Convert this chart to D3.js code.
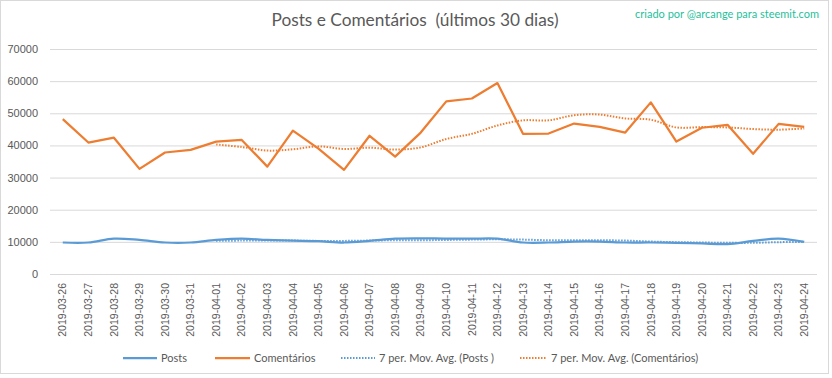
<!DOCTYPE html>
<html>
<head>
<meta charset="utf-8">
<script src="https://cdn.jsdelivr.net/npm/d3@7"></script>
<style>
  body { margin: 0; background: #fff; }
  svg { display: block; font-family: Lato, "Open Sans", sans-serif; }
</style>
</head>
<body>
<svg id="chart" width="832" height="378"></svg>
<script>
// Data
const dates = [
  "2019-03-26", "2019-03-27", "2019-03-28", "2019-03-29", "2019-03-30", "2019-03-31",
  "2019-04-01", "2019-04-02", "2019-04-03", "2019-04-04", "2019-04-05", "2019-04-06",
  "2019-04-07", "2019-04-08", "2019-04-09", "2019-04-10", "2019-04-11", "2019-04-12",
  "2019-04-13", "2019-04-14", "2019-04-15", "2019-04-16", "2019-04-17", "2019-04-18",
  "2019-04-19", "2019-04-20", "2019-04-21", "2019-04-22", "2019-04-23", "2019-04-24"
];
const posts = [9800, 9800, 11000, 10600, 9800, 9800, 10600, 11000, 10600, 10400, 10200, 9800,
  10300, 11000, 11100, 11000, 11000, 11000, 9800, 9800, 10100, 10100, 9800, 9800,
  9700, 9500, 9300, 10300, 11000, 10000];
const comentarios = [48200, 40900, 42400, 32700, 37800, 38600, 41200, 41700, 33400, 44600, 39000, 32400,
  43000, 36500, 44000, 53700, 54600, 59400, 43600, 43700, 46800, 45800, 44000, 53400,
  41200, 45500, 46400, 37400, 46700, 45800];
// moving averages start at the 7th day (2019-04-01)
const maStart = 6;
const maPosts = [10300, 10400, 10400, 10400, 10300, 10300, 10400, 10500, 10500, 10600, 10700, 10800,
  10700, 10500, 10500, 10500, 10400, 10100, 9900, 9800, 9700, 9700, 9900, 10000];
const maComentarios = [40300, 39500, 38400, 38800, 39700, 38900, 39300, 38700, 39400, 42000, 43600, 46200,
  47800, 47800, 49400, 49600, 48400, 48000, 45600, 45700, 45600, 45100, 44900, 45300];
const yTicks = [0, 10000, 20000, 30000, 40000, 50000, 60000, 70000];

const blue = "#5b9bd5", orange = "#ed7d31", textGrey = "#595959", gridGrey = "#d9d9d9";

const svg = d3.select("#chart");
const plot = { left: 50, right: 817, top: 49, bottom: 274 };

// outer border of the chart area
svg.append("rect")
  .attr("x", 0.5).attr("y", 0.5)
  .attr("width", 828).attr("height", 373)
  .attr("fill", "#fff")
  .attr("stroke", gridGrey);

const x = d3.scaleBand().domain(dates).range([plot.left, plot.right]);
const cx = d => x(d) + x.bandwidth() / 2;
const y = d3.scaleLinear().domain([0, 70000]).range([plot.bottom, plot.top]);

// y axis + gridlines
const yAxis = svg.append("g")
  .attr("transform", `translate(${plot.left},0)`)
  .call(d3.axisLeft(y).tickValues(yTicks).tickSize(-(plot.right - plot.left)).tickPadding(12).tickFormat(d3.format("d")));
yAxis.select(".domain").remove();
yAxis.selectAll("line").attr("stroke", gridGrey);
yAxis.selectAll("text").attr("fill", textGrey).style("font-size", "11px");

// x axis labels (rotated)
const xAxis = svg.append("g")
  .attr("transform", `translate(0,${plot.bottom})`)
  .call(d3.axisBottom(x).tickSize(0));
xAxis.select(".domain").remove();
xAxis.selectAll("text")
  .attr("fill", textGrey)
  .style("font-size", "10.5px")
  .attr("text-anchor", "end")
  .attr("transform", "rotate(-90)")
  .attr("x", -9)
  .attr("y", 0)
  .attr("dy", "0.35em");

// lines
const smooth = d3.line().x(d => cx(d.date)).y(d => y(d.v)).curve(d3.curveCatmullRom.alpha(0.5));
const straight = d3.line().x(d => cx(d.date)).y(d => y(d.v));

const pts = arr => arr.map((v, i) => ({ date: dates[i], v }));
const maPts = arr => arr.map((v, i) => ({ date: dates[i + maStart], v }));

svg.append("path").datum(pts(posts))
  .attr("d", smooth).attr("fill", "none")
  .attr("stroke", blue).attr("stroke-width", 2.25).attr("stroke-linejoin", "round");

svg.append("path").datum(pts(comentarios))
  .attr("d", straight).attr("fill", "none")
  .attr("stroke", orange).attr("stroke-width", 2.25).attr("stroke-linejoin", "round");

svg.append("path").datum(maPts(maPosts))
  .attr("d", smooth).attr("fill", "none")
  .attr("stroke", blue).attr("stroke-width", 2).attr("stroke-dasharray", "1.5,1.5");

svg.append("path").datum(maPts(maComentarios))
  .attr("d", smooth).attr("fill", "none")
  .attr("stroke", orange).attr("stroke-width", 2).attr("stroke-dasharray", "1.5,1.5");

// title and credit
svg.append("text")
  .attr("x", 415).attr("y", 26)
  .attr("text-anchor", "middle")
  .attr("fill", textGrey)
  .style("font-size", "17px")
  .style("white-space", "pre")
  .attr("textLength", 287).attr("lengthAdjust", "spacingAndGlyphs")
  .text("Posts e Comentários  (últimos 30 dias)");

svg.append("text")
  .attr("x", 819).attr("y", 18)
  .attr("text-anchor", "end")
  .attr("fill", "#1fbf9c")
  .style("font-size", "11px")
  .text("criado por @arcange para steemit.com");

// legend
const legendItems = [
  { label: "Posts", color: blue, dash: null, x0: 123, x1: 157 },
  { label: "Comentários", color: orange, dash: null, x0: 215, x1: 250 },
  { label: "7 per. Mov. Avg. (Posts )", color: blue, dash: "1.5,1.5", x0: 341, x1: 375 },
  { label: "7 per. Mov. Avg. (Comentários)", color: orange, dash: "1.5,1.5", x0: 520, x1: 547 }
];
const legendY = 358;
const legend = svg.append("g").attr("class", "legend");
legendItems.forEach(item => {
  legend.append("line")
    .attr("x1", item.x0).attr("x2", item.x1)
    .attr("y1", legendY).attr("y2", legendY)
    .attr("stroke", item.color)
    .attr("stroke-width", item.dash ? 2 : 2.25)
    .attr("stroke-dasharray", item.dash);
  legend.append("text")
    .attr("x", item.x1 + 4).attr("y", legendY)
    .attr("dy", "0.35em")
    .attr("fill", textGrey)
    .style("font-size", "11px")
    .text(item.label);
});
</script>
</body>
</html>
